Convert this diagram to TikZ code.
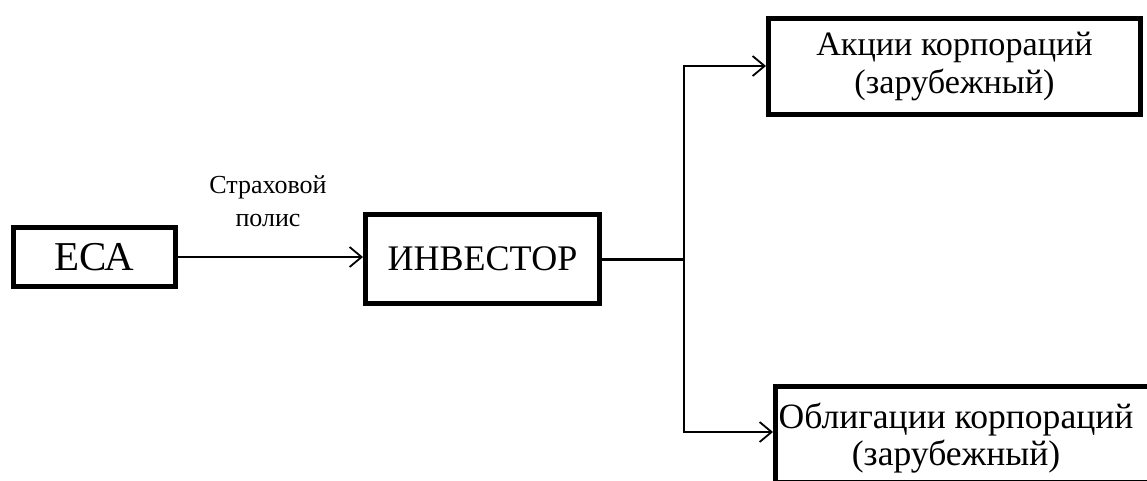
\documentclass[tikz,border=0pt]{standalone}
\usepackage{fontspec}
\setmainfont{Liberation Serif}
\usetikzlibrary{arrows.meta}
\begin{document}
\begin{tikzpicture}[x=1pt,y=-1pt,
  box/.style={draw=black,line width=5pt,fill=white,inner sep=0pt,align=center},
  conn/.style={draw=black,line width=1.8pt,-{Straight Barb[length=12pt,width=20pt,line width=1.8pt]}},
  txt/.style={inner sep=0pt,align=center},
  small/.style={font=\fontsize{26}{33}\selectfont}]
\useasboundingbox (0,0) rectangle (1147,480);
\clip (0,0) rectangle (1147,480);
% boxes
\node[box,font=\fontsize{41}{44}\selectfont,minimum width=162pt,minimum height=59pt] (eca) at (94.5,257) {ЕСА};
\node[box,font=\fontsize{36}{40}\selectfont,minimum width=234pt,minimum height=89pt] (inv) at (482.5,259) {ИНВЕСТОР};
\node[box,font=\fontsize{34.2}{38}\selectfont,minimum width=372pt,minimum height=96pt] (akc) at (954.5,66) {Акции корпораций\\(зарубежный)};
% the last box runs past the right edge of the page
\node[box,minimum width=400pt,minimum height=96pt] (obl) at (975.5,434.5) {};
\node[txt,font=\fontsize{35.6}{37}\selectfont] (oblt) at (956,438) {Облигации корпораций\\(зарубежный)};
% label over the first connector
\node[txt,small] (lbl) at (268,201) {Страховой\\полис};
% connectors
\coordinate (j) at (684,259);
\draw[conn] (eca.east) -- (eca.east -| inv.west);
\draw[line width=3pt] (inv.east) -- (j);
\draw[conn] (j) |- (akc.west);
\draw[conn] (j) |- ([yshift=2.5pt]obl.west);
\end{tikzpicture}
\end{document}
